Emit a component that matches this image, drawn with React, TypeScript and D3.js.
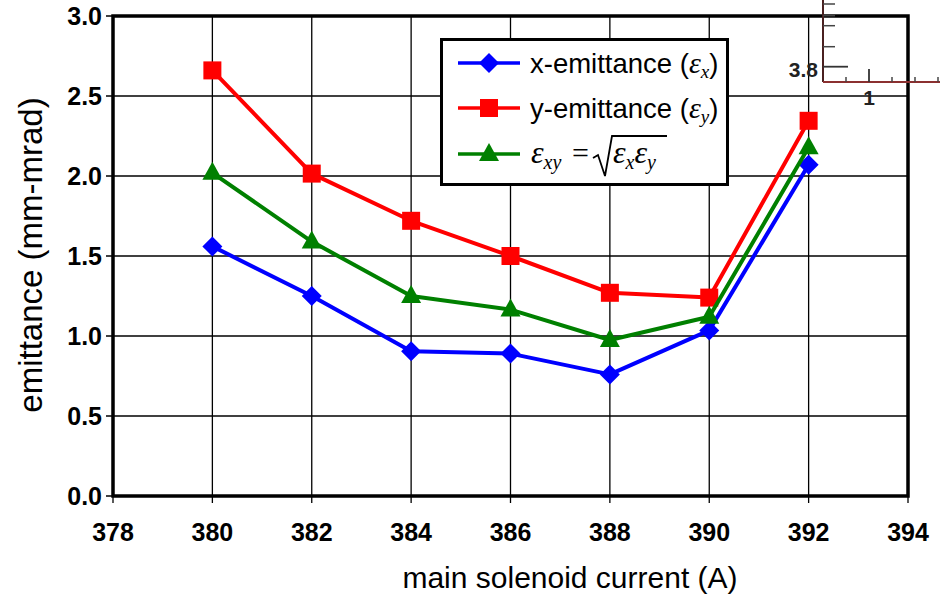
import React from "react";
import * as d3 from "d3";

// solenoid current (A)
const currents = [380, 382, 384, 386, 388, 390, 392];
// emittance values (mm-mrad)
const xEmittance = [1.56, 1.25, 0.905, 0.89, 0.76, 1.035, 2.07];
const yEmittance = [2.66, 2.015, 1.72, 1.5, 1.27, 1.24, 2.345];
const xyEmittance = [2.02, 1.59, 1.25, 1.165, 0.975, 1.12, 2.18];

const xTicks = [378, 380, 382, 384, 386, 388, 390, 392, 394];
const yTicks = [0, 0.5, 1, 1.5, 2, 2.5, 3];

const width = 940;
const height = 601;
const margin = { left: 113, right: 32, top: 16, bottom: 105 };

const x = d3.scaleLinear().domain([378, 394]).range([margin.left, width - margin.right]);
const y = d3.scaleLinear().domain([0, 3]).range([height - margin.bottom, margin.top]);

const series = [
  { name: "x", values: xEmittance, color: "#0000ff", marker: "diamond" },
  { name: "y", values: yEmittance, color: "#ff0000", marker: "square" },
  { name: "xy", values: xyEmittance, color: "#008000", marker: "triangle" },
];

const Marker = ({ kind, cx, cy, color }) => {
  if (kind === "diamond") {
    return <path d={`M${cx},${cy - 10}L${cx + 10},${cy}L${cx},${cy + 10}L${cx - 10},${cy}Z`} fill={color} />;
  }
  if (kind === "square") {
    return <rect x={cx - 9} y={cy - 9} width={18} height={18} fill={color} />;
  }
  return <path d={`M${cx},${cy - 11}L${cx + 10},${cy + 7}L${cx - 10},${cy + 7}Z`} fill={color} />;
};

const App = () => {
  const line = d3
    .line<number>()
    .x((_, i) => x(currents[i]))
    .y((d) => y(d));

  const x0 = x(378);
  const x1 = x(394);
  const y0 = y(0);
  const y1 = y(3);

  // legend layout
  const lx = 441.5;
  const ly = 39.5;
  const rows = [63, 108, 154];
  const serif = "'Liberation Serif', 'DejaVu Serif', serif";

  return (
    <svg
      width={width}
      height={height}
      style={{ position: "absolute", left: 0, top: 0, background: "#fff" }}
      fontFamily="'Liberation Sans', Arial, sans-serif"
    >
      <rect width={width} height={height} fill="#fff" />

      {/* grid */}
      {xTicks.map((t) => (
        <line key={"gx" + t} x1={x(t)} x2={x(t)} y1={y1} y2={y0 + 7} stroke="#000" strokeWidth={1.3} />
      ))}
      {yTicks.map((t) => (
        <line key={"gy" + t} x1={x0 - 7} x2={x1} y1={y(t)} y2={y(t)} stroke="#000" strokeWidth={1.3} />
      ))}

      {/* plot frame */}
      <rect x={x0} y={y1} width={x1 - x0} height={y0 - y1} fill="none" stroke="#000" strokeWidth={3.5} />

      {/* tick labels */}
      {yTicks.map((t) => (
        <text key={"ly" + t} x={x0 - 11} y={y(t)} dy="0.36em" textAnchor="end" fontSize={25} fontWeight="bold">
          {t.toFixed(1)}
        </text>
      ))}
      {xTicks.map((t) => (
        <text key={"lx" + t} x={x(t)} y={y0 + 45} textAnchor="middle" fontSize={25} fontWeight="bold">
          {t}
        </text>
      ))}

      {/* axis titles */}
      <text x={570} y={588} textAnchor="middle" fontSize={30}>
        main solenoid current (A)
      </text>
      <text transform="translate(42,255) rotate(-90)" textAnchor="middle" fontSize={33}>
        emittance (mm-mrad)
      </text>

      {/* series */}
      {series.map((s) => (
        <g key={s.name}>
          <path d={line(s.values) || ""} fill="none" stroke={s.color} strokeWidth={4} strokeLinejoin="round" />
          {s.values.map((v, i) => (
            <Marker key={i} kind={s.marker} cx={x(currents[i])} cy={y(v)} color={s.color} />
          ))}
        </g>
      ))}

      {/* legend */}
      <rect x={lx} y={ly} width={286} height={145} fill="#fff" stroke="#000" strokeWidth={3} />
      {series.map((s, i) => (
        <g key={"leg" + s.name}>
          <line x1={458} x2={520} y1={rows[i]} y2={rows[i]} stroke={s.color} strokeWidth={3.5} />
          <Marker kind={s.marker} cx={489} cy={rows[i]} color={s.color} />
        </g>
      ))}
      <text x={530} y={rows[0] + 10} fontSize={27.5}>
        x-emittance (
        <tspan fontFamily={serif} fontStyle="italic" fontSize={30}>ε</tspan>
        <tspan fontFamily={serif} fontStyle="italic" fontSize={19} dy={5}>x</tspan>
        <tspan dy={-5}>)</tspan>
      </text>
      <text x={530} y={rows[1] + 10} fontSize={27.5}>
        y-emittance (
        <tspan fontFamily={serif} fontStyle="italic" fontSize={30}>ε</tspan>
        <tspan fontFamily={serif} fontStyle="italic" fontSize={19} dy={5}>y</tspan>
        <tspan dy={-5}>)</tspan>
      </text>
      <text x={531} y={rows[2] + 9} fontFamily={serif} fontStyle="italic" fontSize={32}>
        ε
        <tspan fontSize={20} dy={6}>xy</tspan>
      </text>
      <text x={572} y={rows[2] + 9} fontFamily={serif} fontSize={30}>=</text>
      <path d="M593,158 L598,155 L605,176 L612,136 L667,136" fill="none" stroke="#000" strokeWidth={1.8} />
      <text x={613} y={rows[2] + 9} fontFamily={serif} fontStyle="italic" fontSize={32}>
        ε<tspan fontSize={20} dy={6}>x</tspan>
        <tspan fontSize={32} dy={-6}>ε</tspan>
        <tspan fontSize={20} dy={6}>y</tspan>
      </text>

      {/* stray inset axis fragment, top right */}
      <g>
        <line x1={823} x2={823} y1={0} y2={82} stroke="#4a2020" strokeWidth={2} />
        <line x1={823} x2={940} y1={82} y2={82} stroke="#8b3030" strokeWidth={2} />
        {[4, 15.7, 25.7, 46.7].map((t) => (
          <line key={"ft" + t} x1={823} x2={835} y1={t} y2={t} stroke="#444" strokeWidth={1.5} />
        ))}
        <line x1={823} x2={848} y1={66.7} y2={66.7} stroke="#333" strokeWidth={1.8} />
        {[846, 892, 915, 938].map((t) => (
          <line key={"fx" + t} x1={t} x2={t} y1={77} y2={82} stroke="#444" strokeWidth={1.5} />
        ))}
        <line x1={869} x2={869} y1={69} y2={82} stroke="#333" strokeWidth={1.8} />
        <text x={818} y={77} textAnchor="end" fontSize={21} fontWeight="bold" fill="#222">3.8</text>
        <text x={869} y={105} textAnchor="middle" fontSize={21} fontWeight="bold" fill="#222">1</text>
      </g>
    </svg>
  );
};

export default App;
